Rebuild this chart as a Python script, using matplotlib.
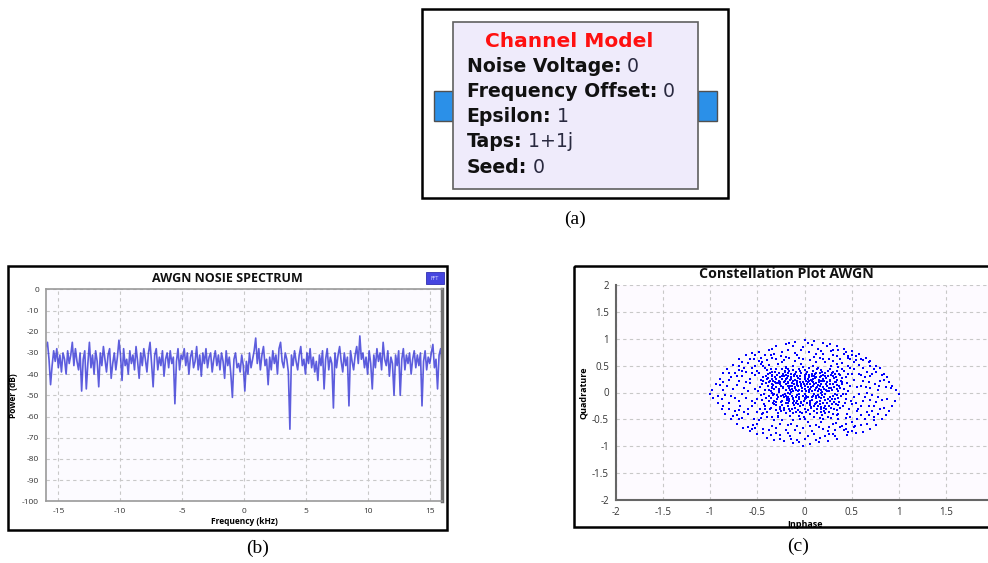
import numpy as np
import matplotlib
matplotlib.use("Agg")
import matplotlib.pyplot as plt
from matplotlib.patches import Rectangle

# ---------------- data ----------------
block_title = "Channel Model"
block_labels = ["Noise Voltage", "Frequency Offset", "Epsilon", "Taps", "Seed"]
block_values = ["0", "0", "1", "1+1j", "0"]

spec_title = "AWGN NOSIE SPECTRUM"
spec_xticks = [-15, -10, -5, 0, 5, 10, 15]
spec_yticks = [0, -10, -20, -30, -40, -50, -60, -70, -80, -90, -100]
spec_freq_range = (-16, 16)   # kHz span of FFT bins
power_db = [
    -27, -25, -33, -45, -36, -29, -34, -28, -37, -31, -39, -30, -33, -40, -29, -35,
    -31, -25, -36, -28, -34, -38, -30, -48, -33, -29, -47, -35, -25, -37, -31, -40,
    -29, -34, -46, -30, -36, -27, -33, -39, -31, -28, -42, -35, -30, -38, -32, -24,
    -31, -43, -28, -36, -33, -40, -29, -35, -31, -38, -27, -34, -42, -30, -36, -28,
    -33, -39, -30, -25, -35, -46, -31, -28, -38, -32, -36, -29, -41, -33, -30, -37,
    -29, -35, -32, -54, -34, -28, -38, -31, -33, -28, -36, -30, -40, -32, -29, -37,
    -34, -27, -38, -31, -41, -30, -35, -28, -37, -32, -30, -39, -33, -29, -36, -31,
    -38, -30, -34, -42, -29, -36, -32, -40, -51, -33, -30, -37, -35, -39, -31, -36,
    -48, -34, -40, -30, -37, -33, -29, -23, -35, -28, -38, -31, -27, -36, -33, -45,
    -32, -38, -29, -35, -31, -40, -28, -25, -34, -37, -30, -33, -39, -66, -31, -36,
    -29, -34, -38, -31, -27, -36, -33, -40, -30, -35, -28, -37, -32, -39, -34, -43,
    -31, -36, -29, -47, -33, -28, -38, -32, -35, -56, -30, -37, -31, -27, -34, -39,
    -30, -36, -32, -55, -29, -34, -38, -31, -27, -35, -22, -33, -30, -37, -32, -40,
    -29, -35, -47, -31, -37, -28, -34, -30, -38, -25, -33, -36, -29, -41, -32, -35,
    -50, -31, -36, -29, -50, -33, -28, -38, -31, -35, -30, -40, -33, -29, -37, -31,
    -36, -30, -55, -34, -29, -38, -32, -35, -30, -26, -37, -33, -47, -31, -28, -35,
]

const_title = "Constellation Plot AWGN"
const_ticks = [-2, -1.5, -1, -0.5, 0, 0.5, 1, 1.5, 2]
const_xticklabels = ["-2", "-1.5", "-1", "-0.5", "0", "0.5", "1", "1.5", ""]
const_yticklabels = ["-2", "-1.5", "-1", "-0.5", "0", "0.5", "1", "1.5", "2"]

iq_outer = [
    (1.0, -0.02), (0.97, 0.05), (0.93, 0.12), (0.9, 0.2), (0.88, 0.28), (0.84, 0.35), (0.8, 0.45), (0.76, 0.5),
    (0.7, 0.58), (0.65, 0.64), (0.58, 0.72), (0.5, 0.78), (0.42, 0.82), (0.35, 0.86), (0.27, 0.9), (0.2, 0.92),
    (0.1, 0.96), (0.0, 0.98), (-0.1, 0.95), (-0.2, 0.9), (-0.3, 0.86), (-0.38, 0.8), (-0.48, 0.76), (-0.56, 0.74),
    (-0.62, 0.7), (-0.7, 0.62), (-0.76, 0.52), (-0.82, 0.44), (-0.86, 0.36), (-0.9, 0.26), (-0.94, 0.16), (-0.98, 0.05),
    (-1.0, -0.02), (-0.97, -0.1), (-0.92, -0.2), (-0.88, -0.3), (-0.84, -0.4), (-0.78, -0.5), (-0.72, -0.58), (-0.65, -0.66),
    (-0.58, -0.72), (-0.5, -0.78), (-0.4, -0.84), (-0.32, -0.88), (-0.22, -0.9), (-0.12, -0.94), (-0.02, -0.99), (0.06, -0.96),
    (0.15, -0.93), (0.25, -0.9), (0.35, -0.86), (0.45, -0.8), (0.55, -0.76), (0.62, -0.74), (0.7, -0.68), (0.76, -0.6),
    (0.82, -0.5), (0.86, -0.42), (0.9, -0.34), (0.93, -0.25), (0.96, -0.15),
    (0.92, 0.08), (0.88, -0.12), (0.8, -0.3), (0.76, 0.38), (0.68, 0.56), (0.6, 0.62), (0.44, 0.76), (0.24, 0.86),
    (0.04, 0.92), (-0.16, 0.92), (-0.34, 0.82), (-0.52, 0.7), (-0.66, 0.56), (-0.8, 0.36), (-0.9, 0.14), (-0.92, -0.06),
    (-0.86, -0.26), (-0.76, -0.44), (-0.6, -0.64), (-0.44, -0.76), (-0.26, -0.86), (-0.06, -0.92), (0.12, -0.88), (0.32, -0.82),
    (0.5, -0.72), (0.66, -0.58), (0.78, -0.4),
    (0.84, 0.24), (0.74, 0.44), (0.62, 0.6), (0.46, 0.68), (0.3, 0.8), (0.18, 0.78), (-0.04, 0.8), (-0.24, 0.76),
    (-0.42, 0.7), (-0.58, 0.62), (-0.7, 0.5), (-0.8, 0.24), (-0.86, 0.04), (-0.8, -0.3), (-0.7, -0.5), (-0.56, -0.68),
    (-0.36, -0.8), (-0.14, -0.86), (0.04, -0.82), (0.26, -0.78), (0.44, -0.68), (0.6, -0.6), (0.74, -0.52), (0.82, -0.14),
    (0.79, 0.12), (0.72, 0.34), (0.52, 0.56), (0.38, 0.62), (-0.2, 0.66), (-0.46, 0.54), (-0.64, 0.46), (-0.72, 0.3),
    (-0.78, -0.06), (-0.7, -0.32), (-0.54, -0.5), (-0.38, -0.7), (-0.18, -0.76), (0.08, -0.72), (0.32, -0.7), (0.52, -0.64),
    (0.68, -0.42), (0.74, -0.26), (0.78, -0.08),
]
iq_mid = [
    (0.55, 0.6), (0.62, 0.45), (0.7, 0.3), (0.75, 0.15), (0.72, -0.05), (0.68, -0.25), (0.6, -0.42), (0.5, -0.55),
    (0.38, -0.65), (0.25, -0.72), (0.1, -0.78), (-0.05, -0.75), (-0.2, -0.7), (-0.35, -0.62), (-0.48, -0.52), (-0.6, -0.4),
    (-0.68, -0.25), (-0.74, -0.1), (-0.76, 0.06), (-0.7, 0.22), (-0.62, 0.38), (-0.52, 0.5), (-0.4, 0.6), (-0.25, 0.68),
    (-0.1, 0.74), (0.05, 0.76), (0.2, 0.72), (0.35, 0.68), (0.48, 0.62),
    (0.58, 0.52), (0.66, 0.38), (0.8, 0.22), (0.78, 0.05), (0.76, -0.18), (0.72, -0.35), (0.64, -0.5), (0.54, -0.62),
    (0.42, -0.7), (0.3, -0.78), (0.16, -0.84), (0.0, -0.86), (-0.15, -0.82), (-0.3, -0.76), (-0.44, -0.68), (-0.55, -0.6),
    (-0.66, -0.48), (-0.74, -0.34), (-0.8, -0.2), (-0.84, -0.04), (-0.82, 0.12), (-0.78, 0.28), (-0.7, 0.42), (-0.6, 0.55),
    (-0.46, 0.64), (-0.32, 0.72), (-0.18, 0.8), (-0.02, 0.84), (0.14, 0.82), (0.28, 0.78), (0.42, 0.72), (0.55, 0.68),
    (0.6, 0.32), (0.65, 0.1), (0.62, -0.15), (0.56, -0.34), (0.44, -0.48), (0.3, -0.58), (0.15, -0.64), (-0.02, -0.66),
    (-0.18, -0.6), (-0.32, -0.52), (-0.45, -0.4), (-0.56, -0.26), (-0.62, -0.1), (-0.64, 0.08), (-0.58, 0.25), (-0.5, 0.4),
    (-0.38, 0.52), (-0.22, 0.6), (-0.06, 0.64), (0.1, 0.66), (0.26, 0.62), (0.4, 0.55), (0.52, 0.44),
    (0.86, 0.1), (0.84, -0.28), (0.74, -0.46), (0.46, -0.74), (0.22, -0.82), (-0.08, -0.88), (-0.26, -0.8), (-0.52, -0.66),
    (-0.72, -0.42), (-0.88, -0.12), (-0.86, 0.2), (-0.74, 0.36), (-0.54, 0.62), (-0.36, 0.7), (-0.12, 0.86), (0.08, 0.88),
    (0.36, 0.8), (0.5, 0.7), (0.7, 0.5), (0.82, 0.32),
    (0.68, 0.2), (0.58, -0.02), (0.5, -0.22), (0.36, -0.4), (0.2, -0.5), (0.04, -0.55), (-0.12, -0.52), (-0.28, -0.45),
    (-0.42, -0.3), (-0.5, -0.12), (-0.52, 0.06), (-0.46, 0.24), (-0.34, 0.38), (-0.2, 0.48), (-0.04, 0.54), (0.12, 0.56),
    (0.28, 0.5), (0.42, 0.4), (0.52, 0.24),
    (0.48, 0.12), (0.52, -0.08), (0.45, -0.4), (0.36, -0.5), (0.18, -0.55), (-0.14, -0.58), (-0.34, -0.46), (-0.5, -0.36),
    (-0.56, -0.16), (-0.58, 0.18), (-0.52, 0.32), (-0.42, 0.46), (-0.28, 0.54), (-0.1, 0.58), (0.06, 0.6), (0.22, 0.56),
    (0.36, 0.48), (0.5, 0.34), (0.56, 0.1), (0.55, -0.2),
    (-0.66, 0.3), (-0.56, 0.46), (-0.45, 0.56), (-0.3, 0.62), (-0.66, -0.02), (-0.6, -0.3), (-0.46, -0.48), (-0.26, -0.58),
    (0.06, -0.62), (0.26, -0.64), (0.44, -0.58), (0.6, -0.26), (0.66, 0.0), (0.62, 0.22), (0.46, 0.5), (0.3, 0.58),
    (0.16, 0.64), (-0.16, 0.64), (-0.36, 0.44), (0.44, 0.28),
    (0.6, 0.12), (0.64, -0.08), (0.57, -0.3), (0.48, -0.45), (0.33, -0.56), (0.12, -0.6), (-0.08, -0.62), (-0.24, -0.52),
    (-0.4, -0.46), (-0.53, -0.2), (-0.6, 0.02), (-0.62, 0.2), (-0.56, 0.36), (-0.44, 0.5), (-0.24, 0.56), (-0.02, 0.62),
    (0.2, 0.62), (0.34, 0.54), (0.48, 0.46), (0.58, 0.34),
    (0.7, 0.08), (0.7, -0.14), (0.66, -0.36), (0.56, -0.5), (0.4, -0.62), (0.2, -0.68), (-0.1, -0.7), (-0.3, -0.66),
    (-0.5, -0.58), (-0.64, -0.36), (-0.7, -0.16), (-0.72, 0.14), (-0.66, 0.4), (-0.48, 0.58), (-0.34, 0.64), (-0.08, 0.7),
    (0.12, 0.72), (0.3, 0.7), (0.46, 0.64), (0.64, 0.28),
]
iq_inner = [
    (0.02, 0.03), (-0.15, 0.12), (0.21, -0.08), (-0.33, -0.05), (0.11, 0.27), (-0.07, -0.22), (0.35, 0.14), (-0.24, 0.31),
    (0.18, -0.31), (-0.41, 0.18), (0.06, -0.41), (0.29, 0.36), (-0.12, 0.42), (0.44, -0.12), (-0.36, -0.28), (0.24, 0.02),
    (-0.02, 0.19), (-0.19, -0.11), (0.13, -0.17), (-0.27, 0.06),
    (0.38, -0.29), (-0.46, -0.04), (0.08, 0.35), (-0.31, 0.38), (0.16, 0.12), (-0.09, -0.36), (0.32, -0.02), (-0.21, 0.22),
    (0.01, -0.13), (-0.38, -0.16), (0.27, 0.24), (-0.14, 0.01), (0.42, 0.07), (-0.05, 0.31), (0.19, -0.42), (-0.28, -0.39),
    (0.09, -0.06), (-0.44, 0.29), (0.34, 0.41), (-0.17, -0.26),
    (0.05, 0.45), (-0.25, -0.18), (0.23, 0.16), (-0.35, 0.09), (0.14, -0.25), (-0.08, 0.14), (0.31, -0.18), (-0.4, -0.36),
    (0.0, 0.25), (-0.18, 0.36), (0.26, -0.36), (-0.3, 0.25), (0.12, 0.08), (-0.06, -0.03), (0.4, 0.27), (-0.22, -0.32),
    (0.07, -0.29), (-0.12, 0.21), (0.2, 0.33), (-0.36, -0.1),
    (-0.03, 0.08), (-0.26, 0.15), (0.17, -0.01), (-0.11, -0.15), (0.28, 0.09), (-0.39, 0.34), (0.1, -0.34), (-0.2, 0.04),
    (0.36, -0.24), (-0.15, -0.43), (0.03, 0.38), (-0.32, -0.22), (0.22, -0.14), (-0.07, 0.27), (0.46, 0.02), (-0.24, 0.43),
    (0.15, 0.2), (-0.47, 0.1), (0.06, -0.19), (-0.13, -0.06),
    (0.3, 0.3), (-0.34, 0.0), (0.0, -0.3), (-0.2, -0.2), (0.2, -0.2), (-0.1, 0.35), (0.1, 0.15), (-0.43, -0.22),
    (0.39, -0.06), (-0.16, 0.08), (0.25, -0.46), (-0.29, 0.33), (0.04, 0.11), (-0.37, 0.22), (0.33, 0.19), (-0.01, -0.46),
    (-0.23, -0.04), (0.18, 0.42), (-0.09, -0.09), (0.43, -0.2),
    (-0.18, 0.17), (0.08, 0.02), (-0.29, -0.12), (0.16, 0.29), (-0.04, -0.17), (0.27, -0.09), (-0.33, 0.14), (0.12, -0.11),
    (-0.14, 0.29), (0.21, 0.07), (-0.26, -0.27), (0.02, 0.21), (-0.42, 0.04), (0.34, -0.33), (-0.06, 0.05), (0.13, -0.39),
    (-0.21, 0.38), (0.37, 0.34), (-0.11, -0.24), (0.24, 0.12),
    (-0.02, -0.06), (-0.31, 0.2), (0.19, -0.05), (-0.16, -0.3), (0.05, 0.29), (-0.38, -0.07), (0.29, 0.04), (-0.08, 0.18),
    (0.11, -0.22), (-0.23, 0.11), (0.4, 0.15), (-0.12, -0.39), (0.22, 0.37), (-0.35, 0.3), (0.01, -0.02), (-0.19, -0.14),
    (0.15, 0.24), (-0.27, 0.01), (0.32, -0.13), (-0.05, 0.4),
    (-0.45, -0.14), (0.09, 0.19), (-0.13, 0.12), (0.26, -0.25), (-0.22, -0.08), (0.04, -0.09), (-0.34, 0.39), (0.18, 0.05),
    (-0.07, -0.32), (0.35, 0.24), (-0.24, 0.26), (0.12, 0.37), (-0.17, -0.2), (0.23, -0.31), (-0.39, 0.12), (0.06, 0.07),
    (-0.1, 0.24), (0.3, -0.4), (-0.3, -0.33), (0.14, -0.04),
    (-0.15, 0.05), (0.03, 0.16), (-0.24, -0.15), (0.21, 0.21), (-0.06, -0.12), (0.1, 0.31), (-0.32, 0.07), (0.27, -0.16),
    (-0.09, 0.38), (0.17, -0.27), (-0.37, -0.3), (0.06, -0.24), (-0.2, 0.33), (0.38, 0.09), (-0.03, 0.02), (-0.28, 0.17),
    (0.13, 0.1), (-0.12, -0.19), (0.25, 0.3), (-0.44, 0.21),
    (0.0, 0.12), (-0.21, -0.02), (0.16, -0.15), (-0.1, 0.09), (0.08, -0.14), (-0.26, 0.29), (0.31, 0.11), (-0.15, -0.34),
    (0.2, 0.26), (-0.33, -0.19), (0.05, 0.33), (-0.05, -0.26), (0.28, -0.28), (-0.4, 0.25), (0.11, 0.04), (-0.18, 0.2),
    (0.36, -0.1), (-0.08, -0.04), (0.02, -0.37), (-0.3, 0.1),
    (-0.14, 0.26), (-0.22, 0.3), (-0.3, 0.18), (-0.08, 0.22), (0.04, 0.26), (0.18, 0.16), (0.26, 0.08), (0.32, 0.2),
    (-0.18, 0.0), (-0.25, -0.06), (-0.12, -0.12), (0.02, -0.1), (0.12, -0.2), (0.22, -0.02), (0.3, -0.06), (-0.04, 0.12),
    (0.08, 0.22), (-0.16, 0.4), (0.0, 0.42), (0.16, 0.36),
    (-0.35, 0.26), (-0.41, -0.1), (-0.3, -0.24), (-0.2, -0.38), (-0.06, -0.44), (0.1, -0.45), (0.22, -0.38), (0.33, -0.22),
    (0.41, -0.02), (0.4, 0.2), (0.3, 0.38), (0.14, 0.45), (-0.02, 0.48), (-0.2, 0.45), (-0.38, 0.04), (-0.47, -0.3),
    (0.47, -0.3), (0.46, 0.34), (-0.48, 0.36), (0.0, -0.5),
    (-0.1, 0.1), (-0.05, 0.2), (0.05, 0.05), (0.15, -0.08), (-0.17, -0.08), (-0.23, 0.09), (0.09, 0.13), (0.19, 0.22),
    (-0.11, 0.3), (-0.27, 0.22), (0.27, 0.16), (0.24, -0.2), (-0.04, -0.2), (0.07, -0.27), (-0.32, -0.02), (0.36, 0.02),
    (-0.2, 0.26), (0.0, 0.33), (-0.07, 0.02), (0.12, 0.28),
    (-0.01, 0.15), (0.14, 0.02), (-0.13, 0.18), (0.06, -0.16), (-0.25, 0.12), (0.23, 0.27), (-0.06, -0.08), (0.17, 0.31),
    (-0.28, -0.09), (0.1, -0.02), (-0.04, 0.36), (0.3, 0.15), (-0.16, -0.16), (0.04, 0.19), (-0.21, 0.41), (0.25, -0.12),
    (-0.35, 0.16), (0.13, -0.3), (-0.09, 0.05), (0.2, 0.1),
    (-0.19, 0.27), (0.01, 0.07), (0.16, -0.22), (-0.31, 0.29), (0.09, 0.41), (-0.1, -0.29), (0.34, 0.07), (-0.24, -0.23),
    (0.07, 0.24), (-0.14, 0.35), (0.22, -0.25), (-0.36, 0.03), (0.12, 0.17), (-0.02, -0.23), (0.28, 0.33), (-0.27, 0.36),
    (0.02, -0.06), (-0.17, 0.13), (0.37, -0.17), (-0.06, 0.44),
    (0.19, 0.39), (-0.32, -0.15), (0.08, -0.09), (-0.05, 0.25), (0.26, 0.03), (-0.22, -0.28), (0.11, 0.34), (-0.39, 0.27),
    (0.29, -0.22), (-0.13, 0.07), (0.04, -0.33), (-0.26, 0.2), (0.15, 0.06), (-0.08, -0.15), (0.33, 0.28), (-0.18, 0.31),
    (0.06, 0.15), (-0.43, -0.02), (0.21, -0.35), (-0.03, -0.39),
    (0.24, 0.19), (-0.12, 0.03), (0.0, 0.29), (-0.29, -0.04), (0.18, -0.11), (-0.2, 0.15), (0.13, 0.43), (-0.37, 0.36),
    (0.31, -0.31), (-0.07, 0.12), (0.09, 0.25), (-0.25, -0.35), (0.39, 0.21), (-0.15, -0.02), (0.05, 0.01), (-0.33, 0.22),
    (0.22, 0.3), (-0.01, -0.15), (0.17, -0.36), (-0.11, 0.33),
    (0.07, 0.1), (-0.23, 0.34), (0.27, 0.22), (-0.16, -0.12), (0.12, -0.07), (-0.34, 0.11), (0.02, 0.34), (-0.09, -0.2),
    (0.35, -0.05), (-0.27, 0.04), (0.19, 0.01), (-0.04, 0.16), (0.25, 0.4), (-0.41, 0.31), (0.1, -0.25), (-0.18, 0.43),
    (0.31, 0.27), (-0.13, -0.31), (0.03, -0.2), (-0.22, 0.19),
    (0.16, 0.21), (-0.08, 0.3), (0.29, -0.13), (-0.3, -0.18), (0.05, 0.22), (-0.2, -0.06), (0.37, 0.12), (-0.11, 0.16),
    (0.21, -0.28), (-0.35, 0.33), (0.0, -0.1), (-0.15, 0.24), (0.14, 0.14), (-0.26, -0.31), (0.32, 0.35), (-0.05, -0.36),
    (0.23, 0.05), (-0.38, 0.19), (0.08, 0.3), (-0.12, -0.1),
    (0.41, -0.25), (0.45, 0.18), (0.38, 0.33), (0.44, -0.02), (-0.45, 0.16), (-0.42, -0.26), (-0.3, 0.43), (0.27, 0.44),
    (-0.05, -0.49), (0.16, -0.48), (-0.28, -0.44), (0.35, -0.42), (-0.49, 0.02), (0.49, -0.16), (0.09, 0.5), (-0.12, 0.5),
    (0.4, 0.43), (-0.4, 0.42), (-0.44, -0.38), (0.28, -0.48),
]

W, H = 988, 563
fig = plt.figure(figsize=(W / 100, H / 100), dpi=100)
fig.patch.set_facecolor("white")

# background axes in pixel coordinates
bg = fig.add_axes([0, 0, 1, 1])
bg.set_xlim(0, W)
bg.set_ylim(H, 0)
bg.axis("off")
bg.set_zorder(0)


def px_axes(x0, y0, x1, y1):
    return fig.add_axes([x0 / W, 1 - y1 / H, (x1 - x0) / W, (y1 - y0) / H])


# ---------- (a) block diagram ----------
bg.add_patch(Rectangle((421.7, 9), 306.3, 189, fill=False, lw=1.8, ec="black"))
bg.add_patch(Rectangle((434, 91), 18.7, 29.7, fc="#2b90e8", ec="#505050", lw=1.0))
bg.add_patch(Rectangle((697.7, 91), 19, 29.7, fc="#2b90e8", ec="#505050", lw=1.0))
bg.add_patch(Rectangle((452.7, 22.3), 245, 167, fc="#efebfb", ec="#606060", lw=1.2))
bg.text(569, 47, block_title, color="#ff1010", fontsize=14.5, fontweight="bold",
        family="DejaVu Sans", ha="center", va="baseline")
baselines = [71.7, 97.3, 122.3, 147.3, 173.3]
for lab, val, yb in zip(block_labels, block_values, baselines):
    t = bg.text(466.7, yb, lab + ":", fontsize=13.6, fontweight="bold", family="DejaVu Sans",
                color="#111111", ha="left", va="baseline")
    bg.annotate(" " + val, xy=(1, 0), xycoords=t, fontsize=13.6, family="DejaVu Sans",
                color="#2a2a40", ha="left", va="bottom")
bg.text(575, 219, "(a)", fontsize=14, family="Liberation Serif", ha="center", va="center")

# ---------- (b) spectrum ----------
bg.add_patch(Rectangle((8.3, 266), 438.4, 264, fill=False, lw=1.8, ec="black"))
bg.text(258, 548, "(b)", fontsize=14, family="Liberation Serif", ha="center", va="center")
bg.add_patch(Rectangle((426, 272), 18, 12, fc="#4545e0", ec="#3030b0", lw=0.6))
bg.text(435, 278, "FFT", fontsize=3.5, color="#d8d8ff", ha="center", va="center", family="DejaVu Sans")
tick_font = "Open Sans"
bg.text(227, 281.5, spec_title, fontsize=9, fontweight="bold", family=tick_font,
        ha="center", va="baseline", color="#111111")

ax1 = px_axes(45.9, 289.3, 442.2, 501.3)
ax1.set_zorder(1)
ax1.set_facecolor("#fcfbff")
freq = np.linspace(spec_freq_range[0], spec_freq_range[1], len(power_db))
ax1.plot(freq, power_db, color="#3535d5", lw=1.2, alpha=0.8)
ax1.set_xlim(spec_freq_range)
ax1.set_ylim(-100, 0)
ax1.set_xticks(spec_xticks)
ax1.set_yticks(spec_yticks)
ax1.set_xticklabels([str(v) for v in spec_xticks], fontsize=6, family=tick_font, color="#333333")
ax1.set_yticklabels([str(v) for v in spec_yticks], fontsize=6, family=tick_font, color="#333333")
ax1.tick_params(length=0, pad=5)
ax1.grid(True, color="#c8c8c8", ls=(0, (3, 3)), lw=0.8)
ax1.set_axisbelow(True)
for s in ["left", "bottom", "top"]:
    ax1.spines[s].set_color("#9a9a9a")
    ax1.spines[s].set_linewidth(1.2)
ax1.spines["right"].set_color("#707070")
ax1.spines["right"].set_linewidth(2.5)
ax1.set_xlabel("Frequency (kHz)", fontsize=6, fontweight="bold", family=tick_font, labelpad=1.5)
ax1.set_ylabel("Power (dB)", fontsize=6, fontweight="bold", family=tick_font, labelpad=3)

# ---------- (c) constellation ----------
bg.add_patch(Rectangle((574, 266), 430, 261, fill=False, lw=1.8, ec="black"))
bg.text(798, 546, "(c)", fontsize=14, family="Liberation Serif", ha="center", va="center")
bg.text(786.5, 277.5, const_title, fontsize=10.2, fontweight="bold", family=tick_font,
        ha="center", va="baseline", color="#111111")

ax2 = px_axes(616, 285.3, 993, 499.7)
ax2.set_zorder(1)
ax2.set_facecolor("#fdfaff")
pts = iq_outer + iq_mid + iq_inner
inphase = [p[0] for p in pts]
quadrature = [p[1] for p in pts]
ax2.plot(inphase, quadrature, "s", color="#0000ff", ms=2.0, mew=0)
ax2.set_xlim(-2, 2)
ax2.set_ylim(-2, 2)
ax2.set_xticks(const_ticks)
ax2.set_yticks(const_ticks)
ax2.set_xticklabels(const_xticklabels)
ax2.set_yticklabels(const_yticklabels)
ax2.tick_params(length=0, pad=5, labelsize=7)
for lbl in ax2.get_xticklabels() + ax2.get_yticklabels():
    lbl.set_family(tick_font)
    lbl.set_color("#333333")
ax2.grid(True, color="#c8c8c8", ls=(0, (3, 3)), lw=0.8)
ax2.set_axisbelow(True)
for s in ["left", "bottom"]:
    ax2.spines[s].set_color("#666666")
    ax2.spines[s].set_linewidth(1.5)
for s in ["top", "right"]:
    ax2.spines[s].set_visible(False)
ax2.set_xlabel("Inphase", fontsize=6.5, fontweight="bold", family=tick_font, labelpad=2)
ax2.set_ylabel("Quadrature", fontsize=6.5, fontweight="bold", family=tick_font, labelpad=3)

fig.savefig("out.png", dpi=100)
